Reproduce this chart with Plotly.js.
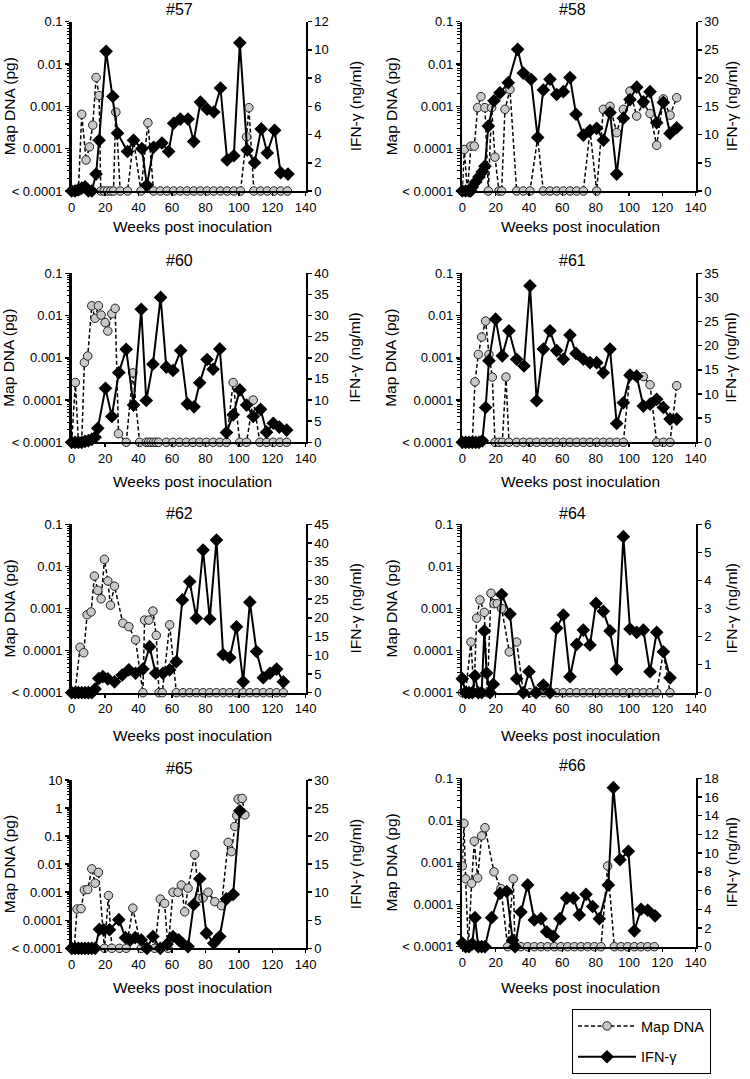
<!DOCTYPE html>
<html><head><meta charset="utf-8">
<script src="https://cdn.plot.ly/plotly-3.0.1.min.js"></script>
<style>html,body{margin:0;padding:0;background:#fff}#chart{width:750px;height:1079px}</style>
</head><body><div id="chart"></div>
<script>
// ---- DATA (0 in a Map DNA array = "< 0.0001", below detection) ----
const panelNames = ['#57','#58','#60','#61','#62','#64','#65','#66'];

const w57d = [0,2,4,6,8.6,10.6,12.6,14.6,16.4,17.4,19.4,21.4,23.4,25,26.4,29,33.4,37,41.4,45.6,49,53,57,61,65,69,73,77,81,85,89,93,97,101,104.6,106,109,113,117,121,125,129];
const d57  = [0,0,0,6.5e-4,5.4e-5,1.1e-4,3.6e-4,4.8e-3,1.8e-3,0,0,0,0,0,7.3e-4,0,0,1.6e-4,0,4.1e-4,0,0,0,0,0,0,0,0,0,0,0,0,0,0,1.9e-4,9.3e-4,0,0,0,0,0,0];
const w57i = [0,2,4,6,8,10,12,14.6,16.4,20.6,24.6,27.4,33.4,37,42,45,49,54,58,61,65,69.6,73,77,81,85,89,93,97,100.6,105,109.4,113.4,117,121.4,125,129.4];
const i57  = [0,0,0.1,0.2,0.3,0,0,1.2,3.6,9.9,6.7,4.1,2.8,3.6,3.0,0.4,3.1,3.4,2.8,4.8,5.1,5.1,3.5,6.3,5.8,5.6,7.3,2.2,2.5,10.5,2.9,2.0,4.4,2.7,4.3,1.3,1.2];

const w58d = [0,1.2,3,5.2,7.2,9.2,11.2,13.6,15.6,17.6,19.6,22,23.6,25.6,28.6,32.6,36.6,40.6,45.2,48.6,52.6,56.6,60.6,64.6,68.6,72.6,76.6,80.6,84.6,88.6,92.6,96.6,100.6,104.6,108.6,112.6,116.6,120.6,124.6,128.6];
const d58  = [0,9.6e-5,0,1.15e-4,1.15e-4,9.3e-4,1.7e-3,9.3e-4,0,9.3e-4,6.3e-5,0,0,8.5e-4,2.5e-3,0,0,0,1.8e-4,0,0,0,0,0,0,0,2.7e-4,0,8.5e-4,1e-3,2.4e-4,8.5e-4,2.3e-3,5.9e-4,1.2e-3,6.8e-4,1.2e-4,1.5e-3,6.2e-4,1.6e-3];
const w58i = [0,2,4,5,6,8,10,12,13.6,15.6,19,22.6,27.6,33.2,36.6,41.2,45.2,48.6,52.6,56.6,60.6,64.6,68.2,72.6,76.6,80.6,84.6,88.6,92.6,96.6,100.6,104.6,108.6,112.6,116.6,120.6,124.6,128.6];
const i58  = [0,0,0,0,0.7,1.6,2.5,3.4,4.4,11.5,16.0,17.4,19.2,25.1,20.9,19.8,9.5,17.9,19.8,17.1,17.6,20.1,13.6,9.9,10.7,11.1,9.0,13.9,3.0,12.9,16.2,18.4,15.8,17.6,12.1,15.7,10.2,11.2];

const w60d = [0,2.2,4,6,7.6,9.6,12,14,16,17.6,20,21.6,24,26,28,32.6,36.6,40.6,44.6,46,47.5,49,50.5,52,56.6,60.6,64.6,68.6,72.6,76.6,80.6,84.6,88.6,92.6,96.6,100.6,104.6,108.6,112.6,116.6,120.6,124.6,128.6];
const d60  = [0,2.6e-4,0,0,7.7e-4,1.1e-3,0.017,8.6e-3,0.017,0.0103,6.8e-3,4.3e-3,0.011,0.0148,1.6e-5,0,4.4e-4,0,0,0,0,0,0,0,0,0,0,0,0,0,0,0,0,0,2.6e-4,0,0,1e-4,0,0,0,0,0];
const w60i = [0,2,4,6,8,10,12,14,15.6,20.2,24,28.2,32.6,37,41.6,44.6,48.6,53.2,56.6,60.6,65.2,69.2,73.2,76.6,81,84.6,88.6,92.6,96.6,100.6,104.6,108.6,113,116.6,120.6,124.2,128.6];
const i60  = [0,0,0,0,0.2,0.4,0.7,1.2,3.3,12.8,6.1,16.5,22.0,8.8,31.5,9.9,18.5,34.3,17.8,17.0,21.7,9.1,8.4,14.1,19.6,17.3,22.1,2.3,6.5,12.4,8.8,6.1,7.8,2.4,4.5,3.6,2.9];

const w61d = [0,2,4,6,7.6,9.6,11.6,14,16,18,19.6,22,24,26.2,28,32.6,36.6,40.6,44.6,48.6,52.6,56.6,60.6,64.6,68.6,72.6,76.6,80.6,84.6,88.6,92.6,96.6,100.6,104.6,108.6,112.6,116.6,120.6,124.6,128.6];
const d61  = [0,0,0,0,2.7e-4,1.2e-3,3.1e-3,7.4e-3,1.2e-3,3.5e-4,0,0,0,3.5e-4,0,0,0,0,0,0,0,0,0,0,0,0,0,0,0,0,0,0,4e-4,3.6e-4,3.6e-4,2.3e-4,0,0,0,2.2e-4];
const w61i = [0,2,4,6,8,10,12,14,16,20,24,28,32.6,37,40.6,44.6,48.6,52.6,56.6,60.6,64.6,68.2,72.6,76.6,80.6,84.6,88.6,92.6,96.6,100.6,104.6,108.6,112.6,116.6,120.6,124.6,128.6];
const i61  = [0,0,0,0,0,0,0.3,7.2,16.9,25.5,17.9,23.1,17.2,15.8,32.4,8.6,19.3,23.1,19.0,17.2,22.2,18.4,17.2,16.5,16.5,14.4,19.3,3.9,8.2,13.9,13.7,7.5,7.9,8.9,7.2,4.8,4.8];

const w62d = [0,2,5,7.2,9.2,11.6,13.6,15.6,17.6,19.6,21.6,23.2,25.6,30.6,34.2,38.2,42.6,43.6,46.2,48.6,50.6,52.2,54.2,58.6,62.6,66.6,70.6,74.6,78.6,82.6,86.6,90.6,94.6,98.6,102.6,106.6,110.6,114.6,118.6,122.6,126.6];
const d62  = [0,0,1.2e-4,8.9e-5,7.1e-4,8.3e-4,5.9e-3,2.7e-3,1.7e-3,0.0147,4.5e-3,1.2e-3,3.4e-3,4.5e-4,3.7e-4,1.8e-4,0,5.3e-4,5.3e-4,8.7e-4,2.3e-4,0,0,4.1e-4,0,0,0,0,0,0,0,0,0,0,0,0,0,0,0,0,0];
const w62i = [0,2,4,6,8,10,12,14,16.2,18.6,21.6,25.6,30.2,34.2,38.2,42.6,46.6,50.2,54.6,58.6,62.6,66.2,70.6,74.6,78.6,82.6,86.6,90.6,94.6,98.6,102.6,106.6,110.6,114.6,118.6,122.6,126.6];
const i62  = [0,0,0,0,0,0,0,1.0,3.8,4.3,3.7,2.9,4.7,6.1,5.2,6.3,12.3,5.2,5.2,6.1,8.3,24.8,29.7,19.9,38.1,19.7,40.8,10.2,9.4,17.6,2.9,24.2,11.0,4.0,5.2,6.3,2.9];

const w64d = [0,2,5.2,7,8.6,10.6,13.2,15,17.2,19,21,23.6,28.2,32.6,36.6,40.6,44.6,48.6,52.6,56.6,60.6,64.6,68.6,72.6,76.6,80.6,84.6,88.6,92.6,96.6,100.6,104.6,108.6,112.6,116.6,120.6,124.6];
const d64  = [0,0,1.6e-4,0,5.9e-4,1.6e-3,8.1e-4,0,2.3e-3,1.3e-3,1.3e-3,1e-3,9.3e-5,1.6e-4,0,0,0,0,0,0,0,0,0,0,0,0,0,0,0,0,0,0,0,0,0,9.3e-5,0];
const w64i = [0,2,4,6,7.6,9.6,11.6,13.2,14.6,16.6,18.6,23.6,28.6,32.6,36.6,40,44.2,48.6,52.6,56.6,60.6,64.6,68.6,72.6,76.6,80.2,84.6,88.6,92.6,96.6,100.6,104.6,108.6,112.6,116.6,120.6,124.6];
const i64  = [0.5,0,0,0,0.6,0,0,2.2,0.7,0,0.3,3.5,2.8,0.5,0,0.75,0,0.27,0,2.3,2.77,0.57,1.72,2.23,1.7,3.18,2.9,2.2,0.84,5.56,2.27,2.15,2.23,0.75,2.15,1.46,0.53];

const w65d = [0,1.5,3.2,5.6,7.6,9.6,12,14,16,19.6,22,24,28.6,32.6,36.6,41.6,44.6,49.6,53,55.6,57.6,60.6,63.6,65.6,67.6,69.6,73.6,76.2,78.6,81.6,85.6,89.6,93.6,95.6,97.6,98.8,99.6,102,103.6];
const d65  = [0,0,2.5e-4,2.6e-4,1.2e-3,1.25e-3,6.8e-3,2.1e-3,5.1e-3,0,7.6e-4,0,0,0,2.7e-4,0,0,0,5.7e-4,4e-4,0,1e-3,1e-3,1.8e-3,2e-4,1.4e-3,0.022,6e-4,6.3e-4,1e-3,4.6e-4,3.3e-4,0.06,0.028,0.22,0.54,2.1,2.2,0.57];
const w65i = [0,2,4,6,8,10,12,14,16.6,19.2,22.6,28.2,32.2,35,38,41.6,45,48.6,53,57,60.6,64,66.2,69.6,73,76.6,80.6,85,88.6,92.6,96.6,100.6];
const i65  = [0,0,0,0,0,0,0,0,3.4,3.3,3.3,5.1,1.9,1.5,1.9,1.5,0,2.1,0,0.7,2.1,1.5,0.9,0.3,7.8,12.4,2.7,0.9,2.1,8.8,9.6,24.5];

const w66d = [0,1,2,3.6,5.6,7.2,9.2,11.6,13.6,19,23.2,27.2,30.6,31.6,35.2,39.2,43.2,47.2,51.2,55.2,59.2,63.2,67.2,71.2,75.2,79.2,83.2,87.2,91.2,95.2,99.2,103.2,107.2,111.2,115.2];
const d66  = [8.3e-4,8.5e-3,4.1e-4,0,3.2e-4,3.2e-3,4.3e-4,4.3e-3,6.7e-3,6e-4,2.4e-4,0,4.1e-4,0,0,0,0,0,0,0,0,0,0,0,0,0,0,8.3e-4,0,0,0,0,0,0,0];
const w66i = [0,2,4,6,7.6,9.6,11.6,13.6,17.6,22.6,26.6,30.2,31.6,35.2,39.2,43.2,47.2,50.6,54.6,58.6,62.6,66.6,70.2,74.2,78.2,82.2,87.6,90.6,94.6,99.6,103.2,107.2,111.2,115.6];
const i66  = [0.4,0,0,0.3,3.1,0,0,0,3.1,5.7,5.9,0.7,0,3.7,6.6,2.85,3.0,1.6,1.1,3.0,5.2,5.2,3.4,5.6,4.3,3.0,6.6,17.0,9.3,10.2,1.7,4.0,3.9,3.3];

// axis scales
const ifnMax  = [12,30,40,35,45,6,30,18];
const ifnStep = [2,5,5,5,5,1,5,2];
const dnaTopExp = [-1,-1,-1,-1,-1,-1,1,-1];
const dnaTickVals = [1e-5,1e-4,1e-3,1e-2,1e-1,1,10];
const dnaTickText = ['< 0.0001','0.0001','0.001','0.01','0.1','1','10'];
const xTickVals = [0,20,40,60,80,100,120,140];
const xTitle = 'Weeks post inoculation';
const yLeftTitle = 'Map DNA (pg)';
const yRightTitle = 'IFN-γ (ng/ml)';

const seriesWeeksD = [w57d,w58d,w60d,w61d,w62d,w64d,w65d,w66d];
const seriesDna    = [d57,d58,d60,d61,d62,d64,d65,d66];
const seriesWeeksI = [w57i,w58i,w60i,w61i,w62i,w64i,w65i,w66i];
const seriesIfn    = [i57,i58,i60,i61,i62,i64,i65,i66];

// ---- LAYOUT ----
const W = 750, H = 1079;
const FLOOR = 1e-5; // position of the "< 0.0001" row on the log axis
const colX = [[71.7,305.7],[462.3,695.7]];
const rowY = [[21.7,191],[273.3,442.3],[524.3,692.7],[780,948.3]];
const rowY4R = [778.3,946.7];
const titleX = [179, 572];
const titleY = [9, 260, 513.5, 768.5];
const xtitleY = [227, 481, 735, 987];
const xtitleX = [192, 580];
const ytitleLX = [9, 391];
const ytitleRX = [355, 731];
const FONT = 'Arial, "Liberation Sans", Helvetica, sans-serif';

const px = p => p / W;
const py = p => 1 - p / H;

const traces = [];
const layout = {
  width: W, height: H,
  margin: {l:0, r:0, t:0, b:0},
  paper_bgcolor: '#fff', plot_bgcolor: 'rgba(0,0,0,0)',
  font: {family: FONT, color: '#000', size: 13},
  showlegend: true,
  legend: {
    x: 572/W, y: py(1009), xanchor: 'left', yanchor: 'top',
    bordercolor: '#000', borderwidth: 1, bgcolor: '#fff',
    font: {family: FONT, size: 14.5, color: '#000'},
    traceorder: 'grouped', tracegroupgap: 9, itemwidth: 58,
    entrywidth: 86, entrywidthmode: 'pixels'
  },
  annotations: []
};

for (let k = 0; k < 8; k++) {
  const col = k % 2, row = Math.floor(k / 2);
  const xb = colX[col];
  const yb = (row === 3 && col === 1) ? rowY4R : rowY[row];
  const xName = k === 0 ? 'x' : 'x' + (k + 1);
  const yl = 2 * k + 1, yr = 2 * k + 2;
  const yLName = yl === 1 ? 'y' : 'y' + yl;
  const yRName = 'y' + yr;
  const xKey = k === 0 ? 'xaxis' : 'xaxis' + (k + 1);
  const yLKey = yl === 1 ? 'yaxis' : 'yaxis' + yl;
  const yRKey = 'yaxis' + yr;
  const ydom = [py(yb[1]), py(yb[0])];
  const top = dnaTopExp[k];
  const nT = top + 6;

  layout[xKey] = {
    domain: [px(xb[0]), px(xb[1])], range: [0, 140],
    tickmode: 'array', tickvals: xTickVals,
    anchor: yLName, showline: true, linecolor: '#000', linewidth: 2,
    ticks: 'outside', ticklen: 3, tickwidth: 1.5, tickcolor: '#000',
    showgrid: false, zeroline: false, fixedrange: true,
    tickfont: {size: 13, color: '#000'}
  };
  layout[yLKey] = {
    type: 'log', domain: ydom, range: [-5, top],
    tickmode: 'array', tickvals: dnaTickVals.slice(0, nT), ticktext: dnaTickText.slice(0, nT),
    anchor: xName, showline: true, linecolor: '#000', linewidth: 2.5,
    ticks: 'outside', ticklen: 4, tickwidth: 1.5, tickcolor: '#000',
    minor: {ticks: 'outside', ticklen: 2.5, dtick: 'D1', tickcolor: '#000', tickwidth: 1, showgrid: false},
    showgrid: false, zeroline: false, fixedrange: true,
    tickfont: {size: 13, color: '#000'}
  };
  layout[yRKey] = {
    domain: ydom, range: [0, ifnMax[k]], tick0: 0, dtick: ifnStep[k],
    overlaying: yLName, side: 'right', anchor: xName,
    showline: true, linecolor: '#000', linewidth: 2,
    ticks: 'outside', ticklen: 4, tickwidth: 1.5, tickcolor: '#000',
    showgrid: false, zeroline: false, fixedrange: true,
    tickfont: {size: 13, color: '#000'}
  };

  traces.push({
    type: 'scatter', mode: 'lines+markers', name: 'Map DNA',
    x: seriesWeeksD[k], y: seriesDna[k].map(v => v > 0 ? v : FLOOR),
    xaxis: xName, yaxis: yLName, cliponaxis: false,
    line: {color: '#000', width: 1.5, dash: '4px,2.5px'},
    marker: {symbol: 'circle', size: 8.5, color: '#c8c8c8', line: {color: '#222', width: 1}},
    showlegend: k === 0, legendgroup: 'dna'
  });
  traces.push({
    type: 'scatter', mode: 'lines+markers', name: 'IFN-γ',
    x: seriesWeeksI[k], y: seriesIfn[k],
    xaxis: xName, yaxis: yRName, cliponaxis: false,
    line: {color: '#000', width: 2},
    marker: {symbol: 'diamond', size: 10.5, color: '#000', line: {color: '#000', width: 0}},
    showlegend: k === 0, legendgroup: 'ifn'
  });

  const ymid = (yb[0] + yb[1]) / 2;
  const common = {xref: 'paper', yref: 'paper', xanchor: 'center', yanchor: 'middle', showarrow: false};
  layout.annotations.push(
    Object.assign({text: panelNames[k], x: px(titleX[col]), y: py(row === 3 && col === 1 ? 765 : titleY[row]),
      font: {size: 16, color: '#000'}}, common),
    Object.assign({text: xTitle, x: px(xtitleX[col]), y: py(xtitleY[row]),
      font: {size: 15.5, color: '#000'}}, common),
    Object.assign({text: yLeftTitle, x: px(ytitleLX[col]), y: py(ymid), textangle: -90,
      font: {size: 15.5, color: '#000'}}, common),
    Object.assign({text: yRightTitle, x: px(ytitleRX[col]), y: py(ymid), textangle: -90,
      font: {size: 15.5, color: '#000'}}, common)
  );
}

Plotly.newPlot('chart', traces, layout, {staticPlot: true, displayModeBar: false});
</script>
</body></html>
